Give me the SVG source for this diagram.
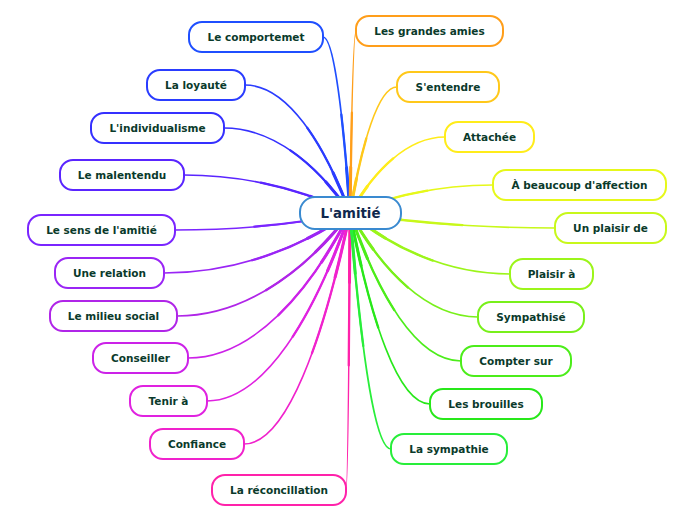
<svg xmlns="http://www.w3.org/2000/svg" xmlns:xlink="http://www.w3.org/1999/xlink" width="696" height="520" viewBox="0 0 696 520">
<style>
.c path{fill:none;stroke-width:1.6;stroke-linecap:round}
.c .t1{stroke-width:2.3;stroke-dasharray:55 200}
.c .t2{stroke-width:3;stroke-dasharray:25 200}
.n rect{fill:#fff;stroke-width:2}
.n text{font-family:"DejaVu Sans",Verdana,sans-serif;font-weight:bold;font-size:10.5px;fill:#0a3a2b;text-anchor:middle}
#center rect{fill:#fff;stroke:#3a8ad0;stroke-width:2}
#center text{font-family:"DejaVu Sans",Verdana,sans-serif;font-weight:bold;font-size:13.3px;fill:#10284d;text-anchor:middle}
</style>
<rect width="696" height="520" fill="#fff"/>
<g id="connectors" class="c">
<g stroke="#1f4fff"><path pathLength="100" d="M350,213 C343.25,116.2 333.8,37 323,37"/><path class="t1" pathLength="100" d="M350,213 C343.25,116.2 333.8,37 323,37"/><path class="t2" pathLength="100" d="M350,213 C343.25,116.2 333.8,37 323,37"/></g>
<g stroke="#2a3cff"><path pathLength="100" d="M350,213 C323.75,142.6 287,85 245,85"/><path class="t1" pathLength="100" d="M350,213 C323.75,142.6 287,85 245,85"/><path class="t2" pathLength="100" d="M350,213 C323.75,142.6 287,85 245,85"/></g>
<g stroke="#3530ff"><path pathLength="100" d="M350,213 C318.5,166.25 274.4,128 224,128"/><path class="t1" pathLength="100" d="M350,213 C318.5,166.25 274.4,128 224,128"/><path class="t2" pathLength="100" d="M350,213 C318.5,166.25 274.4,128 224,128"/></g>
<g stroke="#5a25ff"><path pathLength="100" d="M350,213 C308.5,192.1 250.4,175 184,175"/><path class="t1" pathLength="100" d="M350,213 C308.5,192.1 250.4,175 184,175"/><path class="t2" pathLength="100" d="M350,213 C308.5,192.1 250.4,175 184,175"/></g>
<g stroke="#7a25ff"><path pathLength="100" d="M350,213 C306.25,222.35 245,230 175,230"/><path class="t1" pathLength="100" d="M350,213 C306.25,222.35 245,230 175,230"/><path class="t2" pathLength="100" d="M350,213 C306.25,222.35 245,230 175,230"/></g>
<g stroke="#9a25f5"><path pathLength="100" d="M350,213 C303.5,246 238.4,273 164,273"/><path class="t1" pathLength="100" d="M350,213 C303.5,246 238.4,273 164,273"/><path class="t2" pathLength="100" d="M350,213 C303.5,246 238.4,273 164,273"/></g>
<g stroke="#b025e8"><path pathLength="100" d="M350,213 C306.75,269.65 246.2,316 177,316"/><path class="t1" pathLength="100" d="M350,213 C306.75,269.65 246.2,316 177,316"/><path class="t2" pathLength="100" d="M350,213 C306.75,269.65 246.2,316 177,316"/></g>
<g stroke="#cc22e8"><path pathLength="100" d="M350,213 C309.5,292.75 252.8,358 188,358"/><path class="t1" pathLength="100" d="M350,213 C309.5,292.75 252.8,358 188,358"/><path class="t2" pathLength="100" d="M350,213 C309.5,292.75 252.8,358 188,358"/></g>
<g stroke="#e022e0"><path pathLength="100" d="M350,213 C314.25,316.4 264.2,401 207,401"/><path class="t1" pathLength="100" d="M350,213 C314.25,316.4 264.2,401 207,401"/><path class="t2" pathLength="100" d="M350,213 C314.25,316.4 264.2,401 207,401"/></g>
<g stroke="#f022cc"><path pathLength="100" d="M350,213 C323.5,340 286.4,444 244,444"/><path class="t1" pathLength="100" d="M350,213 C323.5,340 286.4,444 244,444"/><path class="t2" pathLength="100" d="M350,213 C323.5,340 286.4,444 244,444"/></g>
<g stroke="#ff22aa"><path pathLength="100" d="M350,213 C349,365.35 347.6,490 346,490"/><path class="t1" pathLength="100" d="M350,213 C349,365.35 347.6,490 346,490"/><path class="t2" pathLength="100" d="M350,213 C349,365.35 347.6,490 346,490"/></g>
<g stroke="#ff9e1a"><path pathLength="100" d="M350,213 C351.5,112.9 353.6,31 356,31"/><path class="t1" pathLength="100" d="M350,213 C351.5,112.9 353.6,31 356,31"/><path class="t2" pathLength="100" d="M350,213 C351.5,112.9 353.6,31 356,31"/></g>
<g stroke="#ffc81a"><path pathLength="100" d="M350,213 C361.75,143.7 378.2,87 397,87"/><path class="t1" pathLength="100" d="M350,213 C361.75,143.7 378.2,87 397,87"/><path class="t2" pathLength="100" d="M350,213 C361.75,143.7 378.2,87 397,87"/></g>
<g stroke="#ffec1a"><path pathLength="100" d="M350,213 C373.75,171.2 407,137 445,137"/><path class="t1" pathLength="100" d="M350,213 C373.75,171.2 407,137 445,137"/><path class="t2" pathLength="100" d="M350,213 C373.75,171.2 407,137 445,137"/></g>
<g stroke="#e6f81a"><path pathLength="100" d="M350,213 C385.75,197.6 435.8,185 493,185"/><path class="t1" pathLength="100" d="M350,213 C385.75,197.6 435.8,185 493,185"/><path class="t2" pathLength="100" d="M350,213 C385.75,197.6 435.8,185 493,185"/></g>
<g stroke="#c8f81a"><path pathLength="100" d="M350,213 C401.25,221.25 473,228 555,228"/><path class="t1" pathLength="100" d="M350,213 C401.25,221.25 473,228 555,228"/><path class="t2" pathLength="100" d="M350,213 C401.25,221.25 473,228 555,228"/></g>
<g stroke="#9cf51a"><path pathLength="100" d="M350,213 C390,246.55 446,274 510,274"/><path class="t1" pathLength="100" d="M350,213 C390,246.55 446,274 510,274"/><path class="t2" pathLength="100" d="M350,213 C390,246.55 446,274 510,274"/></g>
<g stroke="#78f01a"><path pathLength="100" d="M350,213 C382,270.2 426.8,317 478,317"/><path class="t1" pathLength="100" d="M350,213 C382,270.2 426.8,317 478,317"/><path class="t2" pathLength="100" d="M350,213 C382,270.2 426.8,317 478,317"/></g>
<g stroke="#4ced1a"><path pathLength="100" d="M350,213 C377.75,294.4 416.6,361 461,361"/><path class="t1" pathLength="100" d="M350,213 C377.75,294.4 416.6,361 461,361"/><path class="t2" pathLength="100" d="M350,213 C377.75,294.4 416.6,361 461,361"/></g>
<g stroke="#28e81a"><path pathLength="100" d="M350,213 C370,318.05 398,404 430,404"/><path class="t1" pathLength="100" d="M350,213 C370,318.05 398,404 430,404"/><path class="t2" pathLength="100" d="M350,213 C370,318.05 398,404 430,404"/></g>
<g stroke="#28ee3a"><path pathLength="100" d="M350,213 C360.25,342.8 374.6,449 391,449"/><path class="t1" pathLength="100" d="M350,213 C360.25,342.8 374.6,449 391,449"/><path class="t2" pathLength="100" d="M350,213 C360.25,342.8 374.6,449 391,449"/></g>
</g>
<g id="n1" class="n"><rect x="189" y="22" width="134" height="30" rx="13" stroke="#1f4fff"/><text x="256" y="40.8">Le comportemet</text></g>
<g id="n2" class="n"><rect x="147" y="70" width="98" height="30" rx="13" stroke="#2a3cff"/><text x="196" y="88.8">La loyauté</text></g>
<g id="n3" class="n"><rect x="91" y="113" width="133" height="30" rx="13" stroke="#3530ff"/><text x="157.5" y="131.8">L'individualisme</text></g>
<g id="n4" class="n"><rect x="60" y="160" width="124" height="30" rx="13" stroke="#5a25ff"/><text x="122" y="178.8">Le malentendu</text></g>
<g id="n5" class="n"><rect x="28" y="215" width="147" height="30" rx="13" stroke="#7a25ff"/><text x="101.5" y="233.8">Le sens de l'amitié</text></g>
<g id="n6" class="n"><rect x="55" y="258" width="109" height="30" rx="13" stroke="#9a25f5"/><text x="109.5" y="276.8">Une relation</text></g>
<g id="n7" class="n"><rect x="50" y="301" width="127" height="30" rx="13" stroke="#b025e8"/><text x="113.5" y="319.8">Le milieu social</text></g>
<g id="n8" class="n"><rect x="93" y="343" width="95" height="30" rx="13" stroke="#cc22e8"/><text x="140.5" y="361.8">Conseiller</text></g>
<g id="n9" class="n"><rect x="130" y="386" width="77" height="30" rx="13" stroke="#e022e0"/><text x="168.5" y="404.8">Tenir à</text></g>
<g id="n10" class="n"><rect x="150" y="429" width="94" height="30" rx="13" stroke="#f022cc"/><text x="197" y="447.8">Confiance</text></g>
<g id="n11" class="n"><rect x="212" y="475" width="134" height="30" rx="13" stroke="#ff22aa"/><text x="279" y="493.8">La réconcillation</text></g>
<g id="n12" class="n"><rect x="356" y="16" width="147" height="30" rx="13" stroke="#ff9e1a"/><text x="429.5" y="34.8">Les grandes amies</text></g>
<g id="n13" class="n"><rect x="397" y="72" width="102" height="30" rx="13" stroke="#ffc81a"/><text x="448" y="90.8">S'entendre</text></g>
<g id="n14" class="n"><rect x="445" y="122" width="89" height="30" rx="13" stroke="#ffec1a"/><text x="489.5" y="140.8">Attachée</text></g>
<g id="n15" class="n"><rect x="493" y="170" width="173" height="30" rx="13" stroke="#e6f81a"/><text x="579.5" y="188.8">À beaucoup d'affection</text></g>
<g id="n16" class="n"><rect x="555" y="213" width="111" height="30" rx="13" stroke="#c8f81a"/><text x="610.5" y="231.8">Un plaisir de</text></g>
<g id="n17" class="n"><rect x="510" y="259" width="83" height="30" rx="13" stroke="#9cf51a"/><text x="551.5" y="277.8">Plaisir à</text></g>
<g id="n18" class="n"><rect x="478" y="302" width="106" height="30" rx="13" stroke="#78f01a"/><text x="531" y="320.8">Sympathisé</text></g>
<g id="n19" class="n"><rect x="461" y="346" width="110" height="30" rx="13" stroke="#4ced1a"/><text x="516" y="364.8">Compter sur</text></g>
<g id="n20" class="n"><rect x="430" y="389" width="112" height="30" rx="13" stroke="#28e81a"/><text x="486" y="407.8">Les brouilles</text></g>
<g id="n21" class="n"><rect x="391" y="434" width="116" height="30" rx="13" stroke="#28ee3a"/><text x="449" y="452.8">La sympathie</text></g>
<g id="center"><rect x="300" y="197" width="101" height="32" rx="15"/><text x="350.5" y="217.8">L'amitié</text></g>
</svg>
